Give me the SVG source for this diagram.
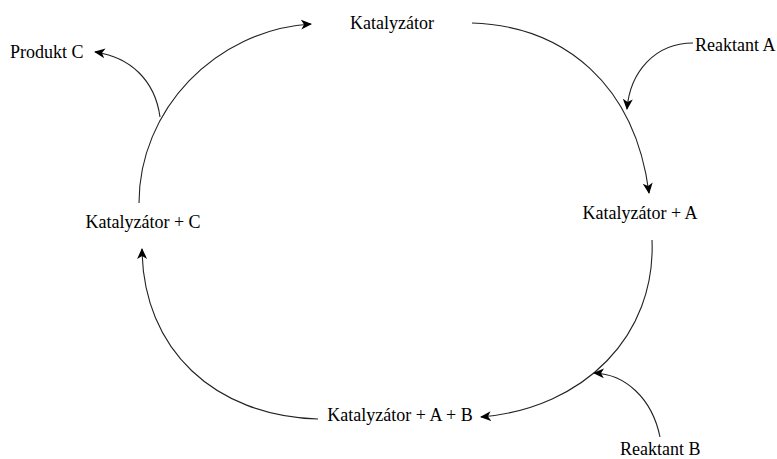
<svg xmlns="http://www.w3.org/2000/svg" width="777" height="459" viewBox="0 0 777 459">
<defs>
<marker id="ah" markerWidth="12" markerHeight="12" refX="10" refY="5" orient="auto" markerUnits="userSpaceOnUse" viewBox="0 0 12 10">
<path d="M0,0 L11,5 L0,10 L3,5 Z" fill="#000"/>
</marker>
</defs>
<style>
.t{font-family:'Liberation Serif','Times New Roman','DejaVu Serif',serif;font-size:18px;fill:#000}
.c{fill:none;stroke:#222;stroke-width:1.1}
</style>
<rect width="777" height="459" fill="#fff"/>
<g id="connectors">
<path class="c" d="M472,23 C565,26 635,85 649,193" marker-end="url(#ah)"/>
<path class="c" d="M693,43 C655,43 630,72 627,109" marker-end="url(#ah)"/>
<path class="c" d="M652,240 C656,335 585,408 481,417" marker-end="url(#ah)"/>
<path class="c" d="M660,437 C652,398 625,374 594,373" marker-end="url(#ah)"/>
<path class="c" d="M318,419 C215,416 143,350 142,249" marker-end="url(#ah)"/>
<path class="c" d="M139,203 C139,110 215,30 311,24" marker-end="url(#ah)"/>
<path class="c" d="M160,117 C155,80 130,57 95,52" marker-end="url(#ah)"/>
</g>
<g id="katalyzator"><text class="t" x="392" y="29" text-anchor="middle">Katalyzátor</text></g>
<g id="produkt-c"><text class="t" x="10" y="58">Produkt C</text></g>
<g id="reaktant-a"><text class="t" x="695" y="51">Reaktant A</text></g>
<g id="katalyzator-a"><text class="t" x="640" y="219" text-anchor="middle">Katalyzátor + A</text></g>
<g id="katalyzator-c"><text class="t" x="143" y="228" text-anchor="middle">Katalyzátor + C</text></g>
<g id="katalyzator-a-b"><text class="t" x="400" y="421" text-anchor="middle">Katalyzátor + A + B</text></g>
<g id="reaktant-b"><text class="t" x="620" y="455">Reaktant B</text></g>
</svg>
